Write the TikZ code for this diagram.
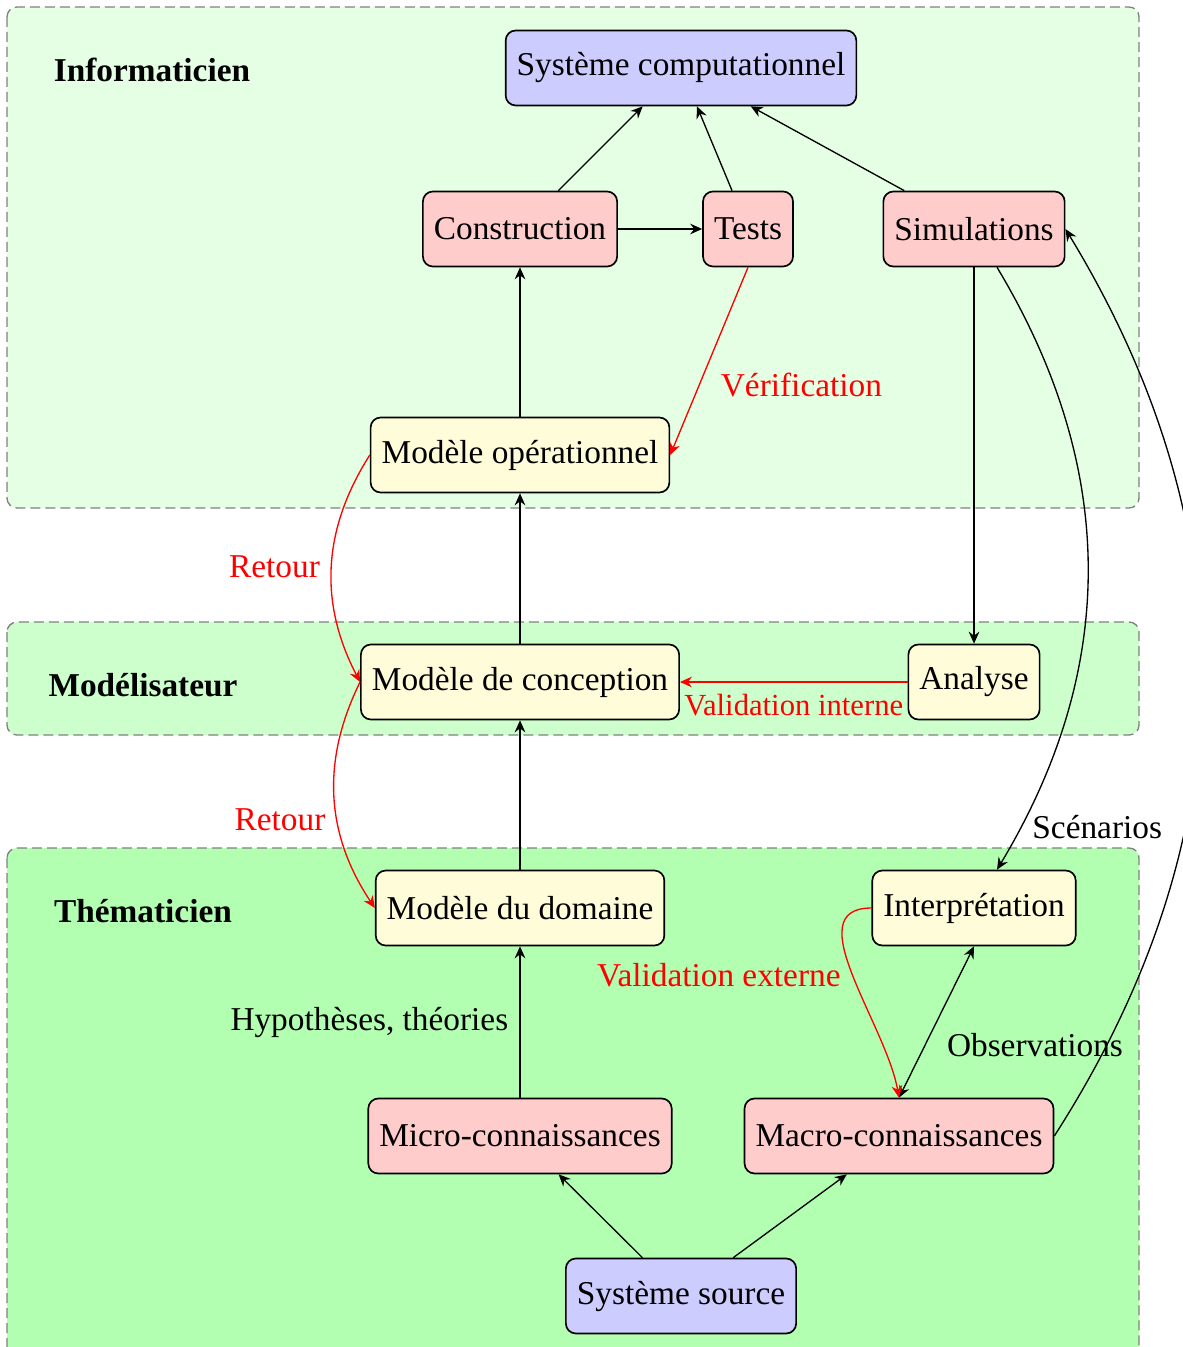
\documentclass[tikz,border=0pt]{standalone}
\usepackage{fontspec}
\setmainfont{Liberation Serif}
\usetikzlibrary{arrows.meta}

\tikzset{
  bande/.style={draw=gray, dash pattern=on 3pt off 1.5pt, rounded corners=3pt},
  boite/.style={draw, rounded corners=3pt, line width=0.5pt, inner xsep=3.3pt, minimum height=22.5pt},
  systeme/.style={boite, fill=blue!20},
  etape/.style={boite, fill=red!20},
  modele/.style={boite, fill=yellow!15},
  role/.style={font=\bfseries},
  fleche/.style={->, >={Stealth[length=3.6pt, width=3.2pt, inset=1.2pt]}},
  retour/.style={fleche, red},
}

\begin{document}
\begin{tikzpicture}[x=0.3pt, y=-0.3pt]
\useasboundingbox (0,0) rectangle (1182,1347);
% les trois bandes
\filldraw[bande, fill=green!10] (7,7) rectangle (1139,508);
\filldraw[bande, fill=green!20] (7,622) rectangle (1139,735);
\filldraw[bande, fill=green!30] (7,848) rectangle (1139,1365);

\node[role] (info) at (152,70) {Informaticien};
\node[role] (modl) at (143,685) {Modélisateur};
\node[role] (them) at (143,911) {Thématicien};

% boites
\node[systeme] (syscomp) at (681,68) {Système computationnel};
\node[etape] (constr) at (520,229) {Construction};
\node[etape] (tests) at (748,229) {Tests};
\node[etape] (simul) at (974,229) {Simulations};
\node[modele] (modop) at (520,455) {Modèle opérationnel};
\node[modele] (modconc) at (520,682) {Modèle de conception};
\node[modele] (analyse) at (974,682) {Analyse};
\node[modele] (moddom) at (520,908) {Modèle du domaine};
\node[modele] (interp) at (974,908) {Interprétation};
\node[etape] (micro) at (520,1136) {Micro-connaissances};
\node[etape] (macro) at (899,1136) {Macro-connaissances};
\node[systeme] (syssrc) at (681,1296) {Système source};

% fleches
\draw[fleche] (constr) -- (syscomp);
\draw[fleche] (tests) -- (syscomp);
\draw[fleche] (simul) -- (syscomp);
\draw[fleche] (constr) -- (tests);
\draw[fleche] (modop) -- (constr);
\draw[fleche] (modconc) -- (modop);
\draw[fleche] (moddom) -- (modconc);
\draw[fleche] (micro) -- node[left] {Hypothèses, théories} (moddom);
\draw[fleche] (syssrc) -- (micro);
\draw[fleche] (syssrc) -- (macro);
\draw[fleche] (simul) -- (analyse);
\draw[fleche] (simul) to[bend left=31] node[pos=0.93, right] {Scénarios} (interp);
\draw[fleche] (macro.east) to[bend right=32] (simul.east);
\draw[fleche, <->] (interp.south) -- node[pos=0.65, right=3pt] {Observations} (macro.north);

% retours et validations
\draw[retour] (tests.south) -- node[midway, below right] {Vérification} (modop.east);
\draw[retour] (analyse) -- node[below, font=\fontsize{9.2}{11}\selectfont] {Validation interne} (modconc);
\draw[retour] (modop.west) to[bend right=30] node[left] {Retour} (modconc.west);
\draw[retour] (modconc.west) to[bend right=30] node[pos=0.6, left] {Retour} (moddom.west);
\draw[retour] (interp.west) to[out=180, in=100] node[left] {Validation externe} (macro.north);
\end{tikzpicture}
\end{document}
